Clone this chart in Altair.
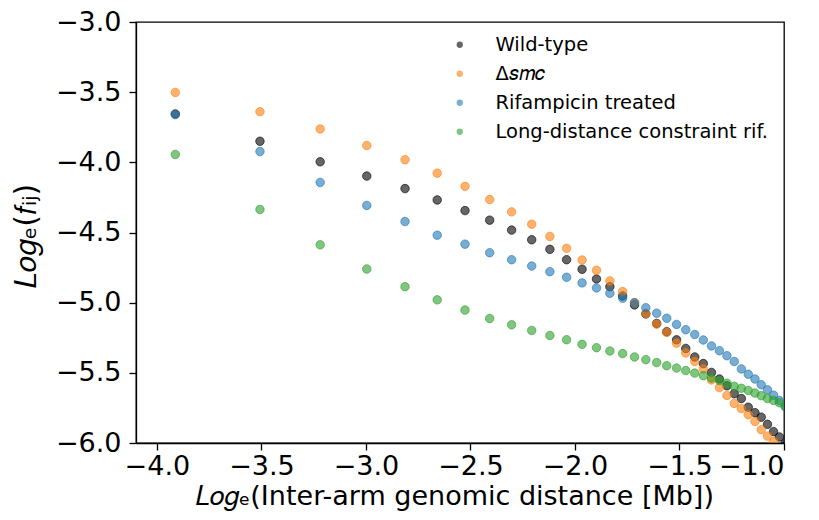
import altair as alt
import pandas as pd

# x positions: log_e of inter-arm distance (Mb)
x_vals = [-3.912, -3.507, -3.219, -2.996, -2.813, -2.659, -2.526, -2.408, -2.303, -2.207,
          -2.120, -2.040, -1.966, -1.897, -1.833, -1.772, -1.715, -1.661, -1.609, -1.561,
          -1.514, -1.470, -1.427, -1.386, -1.347, -1.309, -1.273, -1.238, -1.204, -1.171,
          -1.139, -1.109, -1.079, -1.050, -1.022, -0.994]

wild_type = [-3.655, -3.850, -3.996, -4.098, -4.187, -4.268, -4.344, -4.412, -4.483, -4.552,
             -4.620, -4.694, -4.762, -4.831, -4.886, -4.952, -5.016, -5.080, -5.148, -5.207,
             -5.265, -5.326, -5.387, -5.434, -5.497, -5.544, -5.592, -5.649, -5.683, -5.745,
             -5.784, -5.816, -5.867, -5.919, -5.957, -6.000]

delta_smc = [-3.502, -3.639, -3.762, -3.880, -3.981, -4.077, -4.171, -4.265, -4.353, -4.441,
             -4.528, -4.613, -4.696, -4.769, -4.845, -4.921, -4.999, -5.077, -5.153, -5.212,
             -5.289, -5.358, -5.419, -5.472, -5.551, -5.605, -5.661, -5.718, -5.754, -5.798,
             -5.847, -5.905, -5.951, -5.990, -6.030, -6.080]

rifampicin = [-3.660, -3.923, -4.143, -4.307, -4.422, -4.519, -4.583, -4.644, -4.694, -4.739,
              -4.779, -4.819, -4.859, -4.895, -4.933, -4.968, -5.001, -5.036, -5.075, -5.111,
              -5.155, -5.193, -5.227, -5.266, -5.308, -5.342, -5.378, -5.419, -5.472, -5.510,
              -5.544, -5.585, -5.621, -5.659, -5.697, -5.740]

long_distance = [-3.944, -4.336, -4.588, -4.760, -4.886, -4.980, -5.053, -5.113, -5.158, -5.198,
                 -5.234, -5.264, -5.297, -5.321, -5.344, -5.363, -5.387, -5.406, -5.427, -5.449,
                 -5.466, -5.484, -5.502, -5.520, -5.537, -5.555, -5.574, -5.596, -5.610, -5.626,
                 -5.644, -5.663, -5.683, -5.697, -5.713, -5.741]

series_names = ["Wild-type", "Δ𝑠𝑚𝑐", "Rifampicin treated", "Long-distance constraint rif."]
series_colors = ["#000000", "#ff7f0e", "#1f77b4", "#2ca02c"]

x_ticks = [-4.0, -3.5, -3.0, -2.5, -2.0, -1.5, -1.0]
y_ticks = [-6.0, -5.5, -5.0, -4.5, -4.0, -3.5, -3.0]

rows = []
for s_idx, (name, vals) in enumerate(zip(series_names, [wild_type, delta_smc, rifampicin, long_distance])):
    for xv, yv in zip(x_vals, vals):
        rows.append({"series": name, "x": xv, "y": yv, "ord": s_idx})
df = pd.DataFrame(rows)

color_scale = alt.Scale(domain=series_names, range=series_colors)

chart = alt.Chart(df).mark_circle(
    size=72, fillOpacity=0.6, strokeOpacity=0.6, strokeWidth=1, clip=True
).encode(
    x=alt.X("x:Q",
            scale=alt.Scale(domain=[-4.1, -1.0], nice=False, zero=False),
            axis=alt.Axis(values=x_ticks, format=".1f",
                          title="𝐿𝑜𝑔ₑ(Inter-arm genomic distance [Mb])",
                          titleX=318, titleY=53, titleAlign="center", titleBaseline="middle",
                          labelPadding=3)),
    y=alt.Y("y:Q",
            scale=alt.Scale(domain=[-6.0, -3.0], nice=False, zero=False),
            axis=alt.Axis(values=y_ticks, format=".1f",
                          title="𝐿𝑜𝑔ₑ(𝑓ᵢⱼ)", titleFontSize=30,
                          titleX=-110, titleY=214, titleAlign="center", titleBaseline="middle",
                          labelPadding=8)),
    color=alt.Color("series:N", scale=color_scale,
                    legend=alt.Legend(orient="none", legendX=314, legendY=13, title=None,
                                      labelFont="DejaVu Sans", labelFontSize=19.5,
                                      labelColor="#000000", labelLimit=0,
                                      symbolType="circle", symbolSize=40,
                                      symbolOpacity=0.6, symbolStrokeWidth=0,
                                      labelOffset=26, rowPadding=8, padding=0)),
    stroke=alt.Stroke("series:N", scale=color_scale, legend=None),
    order=alt.Order("ord:Q"),
).properties(
    width=648, height=421,
    autosize=alt.AutoSizeParams(type="none"),
    padding={"left": 128, "top": 14, "right": 20, "bottom": 74},
).configure_view(
    stroke="#000000", strokeWidth=1.3
).configure_axis(
    grid=False,
    domainColor="#000000", domainWidth=1.3,
    tickColor="#000000", tickWidth=1.3, tickSize=7,
    labelFont="DejaVu Sans", labelFontSize=27, labelColor="#000000",
    titleFont="DejaVu Sans", titleFontSize=27, titleFontWeight="normal", titleColor="#000000",
)

chart.save("out.html", embed_options={"renderer": "svg", "actions": False})
